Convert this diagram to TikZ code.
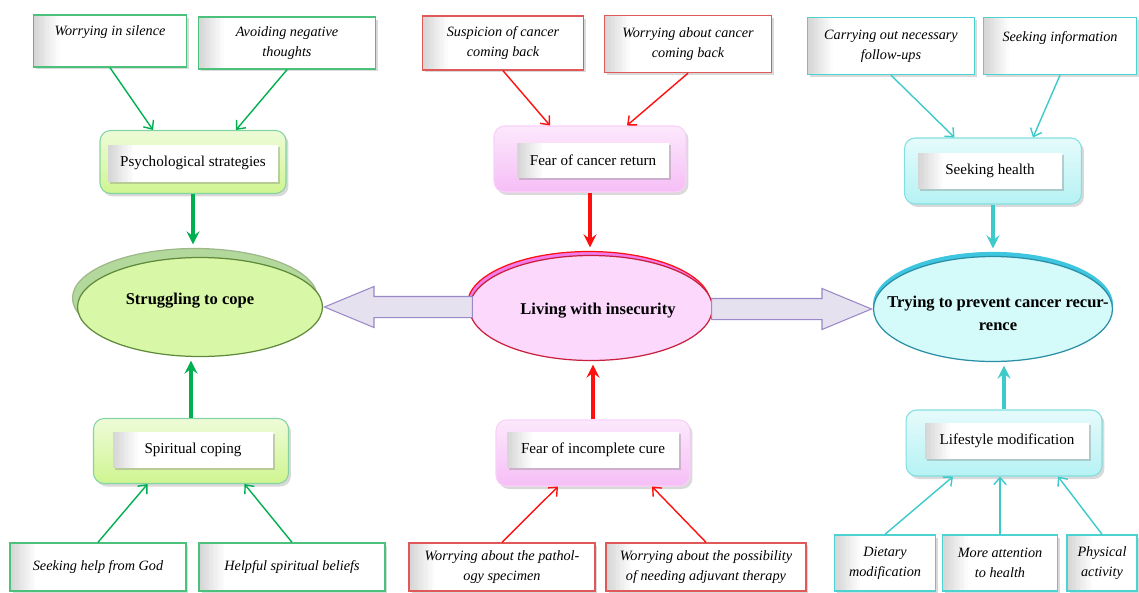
\documentclass[tikz,border=0pt]{standalone}
\usepackage{fontspec}
\setmainfont{Liberation Serif}
\usetikzlibrary{shapes.geometric,shapes.arrows,shadows,calc,arrows.meta}

\definecolor{grnline}{HTML}{4CC17C}
\definecolor{grnarr}{HTML}{00B050}
\definecolor{grnfill}{HTML}{CFF590}
\definecolor{grnell}{HTML}{D8F8A8}
\definecolor{grnback}{HTML}{B2D89C}
\definecolor{grnedge}{HTML}{5E8A3A}
\definecolor{redline}{HTML}{E05858}
\definecolor{redarr}{HTML}{FF1010}
\definecolor{pinkfill}{HTML}{F6BEF6}
\definecolor{pinkell}{HTML}{FCD8FC}
\definecolor{pinkback}{HTML}{F27CEE}
\definecolor{pinkedge}{HTML}{C8203C}
\definecolor{cyanline}{HTML}{4DD2D2}
\definecolor{cyanarr}{HTML}{3CCACA}
\definecolor{cyanfill}{HTML}{B6F2F4}
\definecolor{cyanell}{HTML}{D4FAFA}
\definecolor{cyanback}{HTML}{3EC6E0}
\definecolor{cyanedge}{HTML}{2A8EA6}
\definecolor{arrfill}{HTML}{E6E1EE}
\definecolor{arrline}{HTML}{9A88C8}

\tikzset{
  bevel/.style={path picture={\foreach \i [evaluate=\i as \g using 16-1.6*\i] in {0,...,9}
      \fill[black!\g] ([xshift=\i*0.05cm]path picture bounding box.south west)
        rectangle ([xshift=\i*0.05cm+0.05cm]path picture bounding box.north west);}},
  leaf/.style={draw=#1, line width=0.8pt, fill=white, bevel, align=center, inner sep=2pt,
      font=\fontsize{8.1}{11.5}\selectfont\itshape,
      drop shadow={opacity=0.3,shadow xshift=0.5mm,shadow yshift=-0.5mm}},
  midbox/.style 2 args={draw=#1!70, line width=0.6pt, top color=#2!35, bottom color=#2,
      rounded corners=6pt, drop shadow={opacity=0.3,shadow xshift=0.5mm,shadow yshift=-0.6mm}},
  midtxt/.style={fill=white, bevel, inner sep=0pt, font=\fontsize{8.6}{10}\selectfont,
      drop shadow={opacity=0.35,shadow xshift=0.4mm,shadow yshift=-0.4mm}},
  theme/.style 2 args={ellipse, draw=#1, fill=#2, line width=0.7pt, inner sep=0pt},
  themetxt/.style={align=center, font=\fontsize{9.4}{13}\selectfont\bfseries},
  thin/.style={draw=#1, line width=0.8pt, -{Straight Barb[length=4pt,width=7pt]}},
  thick/.style={draw=#1, line width=2.2pt, -stealth, shorten >=2pt},
  bigarrow/.style={single arrow, draw=arrline, fill=arrfill, line width=0.6pt,
      single arrow head extend=0.2cm, inner sep=0.2cm, single arrow tip angle=45}
}

\begin{document}
\begin{tikzpicture}[x=0.02cm,y=-0.02cm]
\useasboundingbox (0,0) rectangle (1139,592);

% green branch
\node[leaf=grnline, minimum width=3.06cm, minimum height=1.04cm, text depth=0.4cm] (silence) at (110,41) {Worrying in silence};
\node[leaf=grnline, minimum width=3.54cm, minimum height=1.04cm] (avoid) at (287,43) {Avoiding negative\\thoughts};
\node[midbox={grnline}{grnfill}, minimum width=3.72cm, minimum height=1.26cm] (psy) at (193,162) {};
\node[midtxt, minimum width=3.4cm, minimum height=0.74cm] (psytxt) at (193,163) {Psychological strategies};
\node[theme={grnedge!60}{grnback}, minimum width=4.9cm, minimum height=1.98cm] (strugback) at (195,298) {};
\node[theme={grnedge}{grnell}, minimum width=4.9cm, minimum height=1.98cm] (struggle) at (200,307) {};
\node[themetxt] (struggletxt) at (190,301) {Struggling to cope};
\node[midbox={grnline}{grnfill}, minimum width=3.9cm, minimum height=1.3cm] (spirit) at (191,451) {};
\node[midtxt, minimum width=3.22cm, minimum height=0.72cm] (spirittxt) at (193,450) {Spiritual coping};
\node[leaf=grnline, minimum width=3.52cm, minimum height=0.96cm] (god) at (98,567) {Seeking help from God};
\node[leaf=grnline, minimum width=3.72cm, minimum height=0.96cm] (beliefs) at (292,567) {Helpful spiritual beliefs};

\draw[thin=grnarr] (silence.south) -- ([xshift=-0.8cm]psy.north);
\draw[thin=grnarr] (avoid.south) -- ([xshift=0.86cm]psy.north);
\draw[thick=grnarr] (psy.south) -- (psy.south |- strugback.north);
\draw[thick=grnarr] (spirit.north) -- (spirit.north |- struggle.south);
\draw[thin=grnarr] (god.north) -- ([xshift=-0.87cm]spirit.south);
\draw[thin=grnarr] (beliefs.north) -- ([xshift=1.07cm]spirit.south);

% red branch
\node[leaf=redline, minimum width=3.22cm, minimum height=1.08cm] (suspicion) at (503,43) {Suspicion of cancer\\coming back};
\node[leaf=redline, minimum width=3.34cm, minimum height=1.14cm] (worryback) at (688,44) {Worrying about cancer\\coming back};
\node[midbox={pinkfill}{pinkfill}, minimum width=3.84cm, minimum height=1.32cm] (fearret) at (590,159) {};
\node[midtxt, minimum width=3.04cm, minimum height=0.7cm] (fearrettxt) at (593,160) {Fear of cancer return};
\node[theme={redarr}{pinkback}, minimum width=4.86cm, minimum height=2.1cm] (livingback) at (589,304) {};
\node[theme={pinkedge}{pinkell}, minimum width=4.86cm, minimum height=2.1cm] (living) at (591,308) {};
\node[themetxt] (livingtxt) at (598,311) {Living with insecurity};
\node[midbox={pinkfill}{pinkfill}, minimum width=3.88cm, minimum height=1.32cm] (incomplete) at (593,453) {};
\node[midtxt, minimum width=3.46cm, minimum height=0.72cm] (incompletetxt) at (593,450) {Fear of incomplete cure};
\node[leaf=redline, minimum width=3.72cm, minimum height=0.96cm] (pathol) at (502,567) {Worrying about the pathol-\\ogy specimen};
\node[leaf=redline, minimum width=4.0cm, minimum height=0.96cm] (adjuvant) at (706,567) {Worrying about the possibility\\of needing adjuvant therapy};

\draw[thin=redarr] (suspicion.south) -- ([xshift=-0.8cm]fearret.north);
\draw[thin=redarr] (worryback.south) -- ([xshift=0.74cm]fearret.north);
\draw[thick=redarr] (fearret.south) -- (fearret.south |- livingback.north);
\draw[thick=redarr] (incomplete.north) -- (incomplete.north |- living.south);
\draw[thin=redarr] (pathol.north) -- ([xshift=-0.7cm]incomplete.south);
\draw[thin=redarr] (adjuvant.north) -- ([xshift=1.18cm]incomplete.south);

% cyan branch
\node[leaf=cyanline, minimum width=3.34cm, minimum height=1.14cm] (followups) at (891,46) {Carrying out necessary\\follow-ups};
\node[leaf=cyanline, minimum width=3.06cm, minimum height=1.14cm, text depth=0.4cm] (seekinfo) at (1060,46) {Seeking information};
\node[midbox={cyanline}{cyanfill}, minimum width=3.54cm, minimum height=1.32cm] (seekhealth) at (993,171) {};
\node[midtxt, minimum width=2.9cm, minimum height=0.72cm] (seekhealthtxt) at (990,171) {Seeking health};
\node[theme={cyanback}{cyanback}, minimum width=4.78cm, minimum height=2.1cm] (tryingback) at (993,305) {};
\node[theme={cyanedge}{cyanell}, minimum width=4.78cm, minimum height=2.1cm] (trying) at (993,309) {};
\node[themetxt] (tryingtxt) at (998,313) {Trying to prevent cancer recur-\\rence};
\node[midbox={cyanline}{cyanfill}, minimum width=3.92cm, minimum height=1.32cm] (lifestyle) at (1004,443) {};
\node[midtxt, minimum width=3.3cm, minimum height=0.72cm] (lifestyletxt) at (1007,441) {Lifestyle modification};
\node[leaf=cyanline, minimum width=2.02cm, minimum height=1.12cm] (dietary) at (885,563) {Dietary\\modification};
\node[leaf=cyanline, minimum width=2.3cm, minimum height=1.12cm] (attention) at (1000,563) {More attention\\to health};
\node[leaf=cyanline, minimum width=1.4cm, minimum height=1.12cm] (physical) at (1102,563) {Physical\\activity};

\draw[thin=cyanarr] (followups.south) -- ([xshift=-0.77cm]seekhealth.north);
\draw[thin=cyanarr] (seekinfo.south) -- ([xshift=0.8cm]seekhealth.north);
\draw[thick=cyanarr] (seekhealth.south) -- (seekhealth.south |- tryingback.north);
\draw[thick=cyanarr] (lifestyle.north) -- (lifestyle.north |- trying.south);
\draw[thin=cyanarr] (dietary.north) -- ([xshift=-1.02cm]lifestyle.south);
\draw[thin=cyanarr] (attention.north) -- (attention.north |- lifestyle.south);
\draw[thin=cyanarr] (physical.north) -- ([xshift=1.08cm]lifestyle.south);

% links between themes
\node[bigarrow, shape border rotate=180, minimum height=2.96cm, anchor=tip] (arrleft) at (struggle.east) {};
\node[bigarrow, minimum height=3.2cm, anchor=tip] (arrright) at (trying.west) {};
\end{tikzpicture}
\end{document}
